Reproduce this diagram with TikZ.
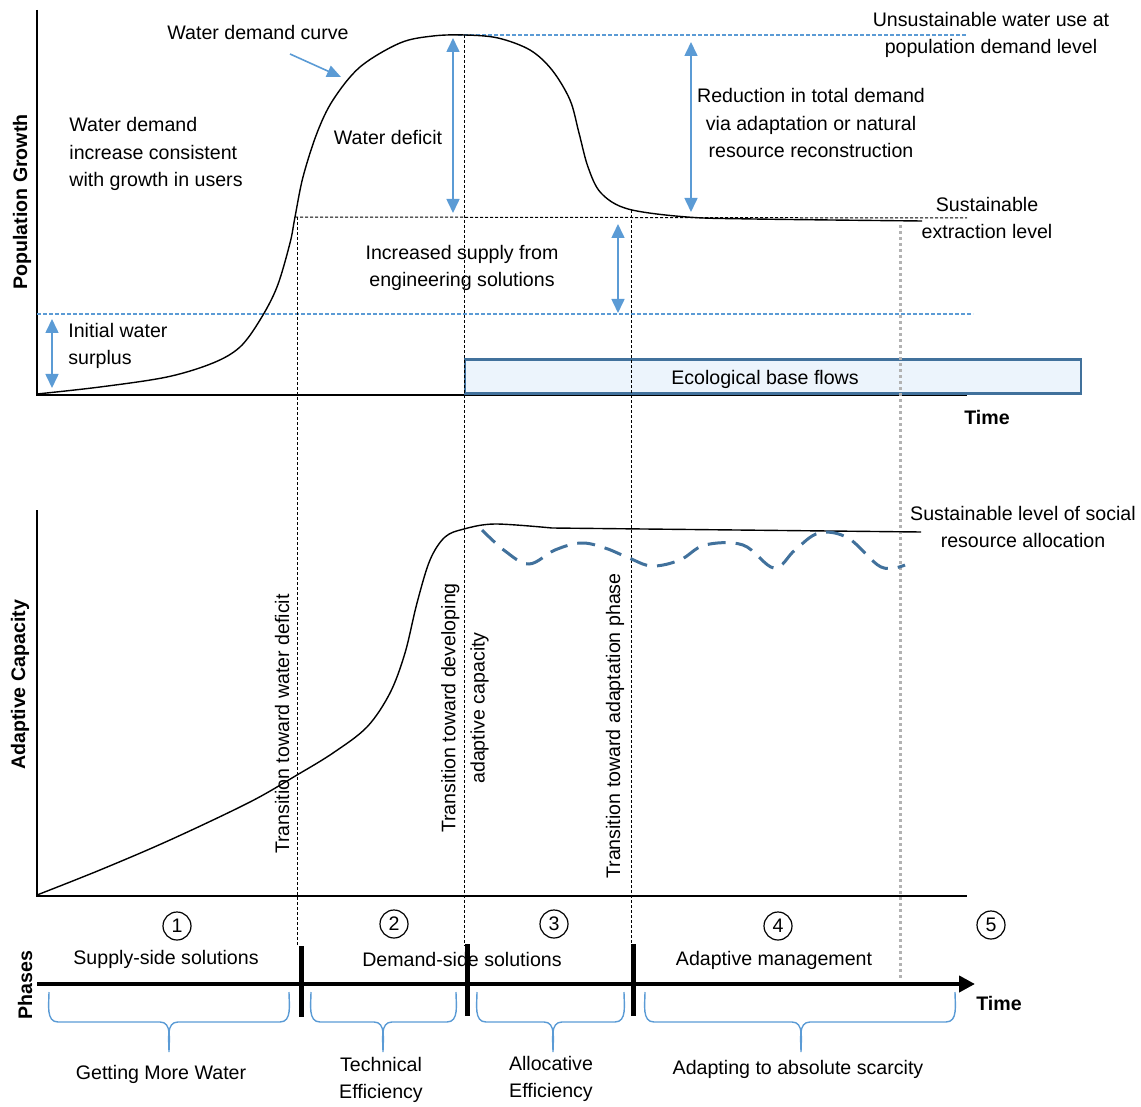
\documentclass[tikz,border=0pt]{standalone}
\usepackage{fontspec}
\setmainfont{Liberation Sans}
\usetikzlibrary{arrows.meta}

\definecolor{arrowblue}{RGB}{91,155,213}
\definecolor{steelblue}{RGB}{65,113,156}
\definecolor{flowfill}{RGB}{236,244,252}

% blue brace under the phase axis: left x, tip x, right x
\newcommand{\phasebrace}[3]{%
  \draw[brc] (#1,992) to[out=-90,in=180] (#1+9,1022) -- (#2-9,1022)
    to[out=0,in=90] (#2,1052) to[out=90,in=180] (#2+9,1022)
    -- (#3-9,1022) to[out=0,in=-90] (#3,992);}

\begin{document}
\begin{tikzpicture}[
    x=0.5pt, y=-0.5pt,
    font=\fontsize{9.8}{13.6}\selectfont,
    axis/.style     = {line width=1.2pt, black},
    curve/.style    = {line width=0.7pt, black},
    guide/.style    = {line width=0.5pt, dash pattern=on 1.5pt off 1pt},
    level/.style    = {line width=0.6pt, arrowblue, dash pattern=on 2pt off 1pt},
    span/.style     = {{Triangle[length=7pt,width=6.5pt]}-{Triangle[length=7pt,width=6.5pt]}, line width=0.8pt, arrowblue},
    pointer/.style  = {-{Triangle[length=7pt,width=6pt]}, line width=0.8pt, arrowblue},
    lbl/.style      = {align=center, inner sep=0pt},
    lblleft/.style  = {align=left, inner sep=0pt, anchor=west},
    axlbl/.style    = {font=\fontsize{9.8}{12}\selectfont\bfseries, inner sep=0pt},
    ecobox/.style   = {draw=steelblue, fill=flowfill, line width=1.2pt, minimum width=308pt, minimum height=17pt, inner sep=0pt},
    phasebar/.style = {line width=2.5pt},
    num/.style      = {circle, draw, line width=0.6pt, minimum size=14pt, inner sep=0pt},
    brc/.style      = {line width=0.7pt, arrowblue}
  ]
  \useasboundingbox (0,0) rectangle (1141,1107);

  % --- top panel: demand ---
  \draw[axis] (37,10) -- (37,395) -- (967,395);
  \node[axlbl, rotate=90] (popg) at (22,202) {Population Growth};
  \node[axlbl, anchor=north] (time1) at (987,410) {Time};

  \node[ecobox] (eco) at (773,376.5) {};
  \node[lbl] (ecol) at (765,379) {Ecological base flows};

  \draw[level] (458,35) -- (967,35);
  \draw[level] (37,314) -- (973,314);
  \draw[guide] (295,217) -- (967,218);

  \draw[curve] plot[smooth, tension=0.55] coordinates {(37,394) (100,387) (167,377)
    (213,363) (240,347) (260,320) (277,287) (290,243) (295,217) (303,177) (317,133)
    (333,100) (360,67) (400,43) (433,36) (465,35) (498,38) (530,50) (552,70)
    (570,100) (579,133) (588,167) (601,193) (628,209) (687,217) (754,219) (922,221)};

  % --- phase borders ---
  \coordinate (g1a) at (297,217);  \coordinate (g1b) at (297,946);
  \coordinate (g2a) at (464,35);   \coordinate (g2b) at (464,946);
  \coordinate (g3a) at (631,210);  \coordinate (g3b) at (631,946);
  \coordinate (g4a) at (900,225);  \coordinate (g4b) at (900,980);
  \draw[guide] (g1a) -- (g1b);
  \draw[guide] (g2a) -- (g2b);
  \draw[guide] (g3a) -- (g3b);
  \draw[line width=1.5pt, black!30, dash pattern=on 1.5pt off 1.5pt] (g4a) -- (g4b);

  % --- spans ---
  \coordinate (defT) at (453,38);  \coordinate (defB) at (453,213);
  \coordinate (redT) at (691,42);  \coordinate (redB) at (691,212);
  \coordinate (supT) at (618,224); \coordinate (supB) at (618,313);
  \coordinate (surT) at (52,319);  \coordinate (surB) at (52,388);
  \draw[span] (defT) -- (defB);
  \draw[span] (redT) -- (redB);
  \draw[span] (supT) -- (supB);
  \draw[span] (surT) -- (surB);

  \node[lbl] (wdc) at (258,32) {Water demand curve};
  \coordinate (ptrA) at (290,54); \coordinate (ptrB) at (341,77);
  \draw[pointer] (ptrA) -- (ptrB);

  \node[lblleft] (incr) at (69,154) {Water demand\\increase consistent\\with growth in users};
  \node[lbl] (wdef) at (388,137) {Water deficit};
  \node[lbl] (supl) at (462,268) {Increased supply from\\engineering solutions};
  \node[lblleft] (surp) at (68,346) {Initial water\\surplus};
  \node[lbl] (unsus) at (991,35) {Unsustainable water use at\\population demand level};
  \node[lbl] (redu) at (811,123) {Reduction in total demand\\via adaptation or natural\\resource reconstruction};
  \node[lbl] (sext) at (987,218) {Sustainable\\extraction level};

  % --- bottom panel: adaptive capacity ---
  \draw[axis] (37,510) -- (37,896) -- (967,896);
  \node[axlbl, rotate=90] (adcap) at (20,685) {Adaptive Capacity};

  \draw[curve] plot[smooth, tension=0.55] coordinates {(37,895) (100,870) (170,840)
    (250,802) (297,775) (333,753) (367,727) (390,693) (405,653) (417,603) (430,560)
    (445,537) (464,529) (495,524) (552,528)} -- (921,532);
  \draw[steelblue, line width=1.5pt, dash pattern=on 9pt off 5pt]
    plot[smooth, tension=0.6] coordinates {(482,530) (505,551) (529,564) (555,550)
    (581,543) (605,548) (629,558) (652,566) (680,560) (705,545) (743,545) (774,568)
    (795,550) (819,533) (848,538) (881,567) (905,565)};

  \node[lbl] (sles) at (1023,527) {Sustainable level of social\\resource allocation};
  \node[lbl, rotate=90] (tr1) at (282,724) {Transition toward water deficit};
  \node[lbl, rotate=90] (tr2) at (465,708) {Transition toward developing\\[1pt]adaptive capacity};
  \node[lbl, rotate=90] (tr3) at (615,726) {Transition toward adaptation phase};

  % --- phases ---
  \node[axlbl, rotate=90] (phs) at (25,985) {Phases};
  \coordinate (phA) at (37,984); \coordinate (phB) at (975,984);
  \draw[line width=2pt, -{Triangle[length=8pt,width=8pt]}] (phA) -- (phB);
  \node[axlbl] (time2) at (999,1003) {Time};

  \draw[phasebar] (301,946) -- (301,1017);
  \draw[phasebar] (467,944) -- (467,1016);
  \draw[phasebar] (633,944) -- (633,1016);

  \node[num] (n1) at (177,926) {1};
  \node[num] (n2) at (394,924) {2};
  \node[num] (n3) at (554,924) {3};
  \node[num] (n4) at (778,926) {4};
  \node[num] (n5) at (991,925) {5};

  \node[lbl] (sss) at (166,959) {Supply-side solutions};
  \node[lbl] (dss) at (462,959) {Demand-side solutions};
  \node[lbl] (adm) at (774,960) {Adaptive management};

  \phasebrace{49}{169}{289}
  \phasebrace{311}{383}{456}
  \phasebrace{477}{553}{624}
  \phasebrace{645}{801}{955}

  \node[lbl] (gmw) at (161,1074) {Getting More Water};
  \node[lbl] (teff) at (381,1080) {Technical\\Efficiency};
  \node[lbl] (aeff) at (551,1079) {Allocative\\Efficiency};
  \node[lbl] (aas) at (798,1069) {Adapting to absolute scarcity};

\end{tikzpicture}
\end{document}
